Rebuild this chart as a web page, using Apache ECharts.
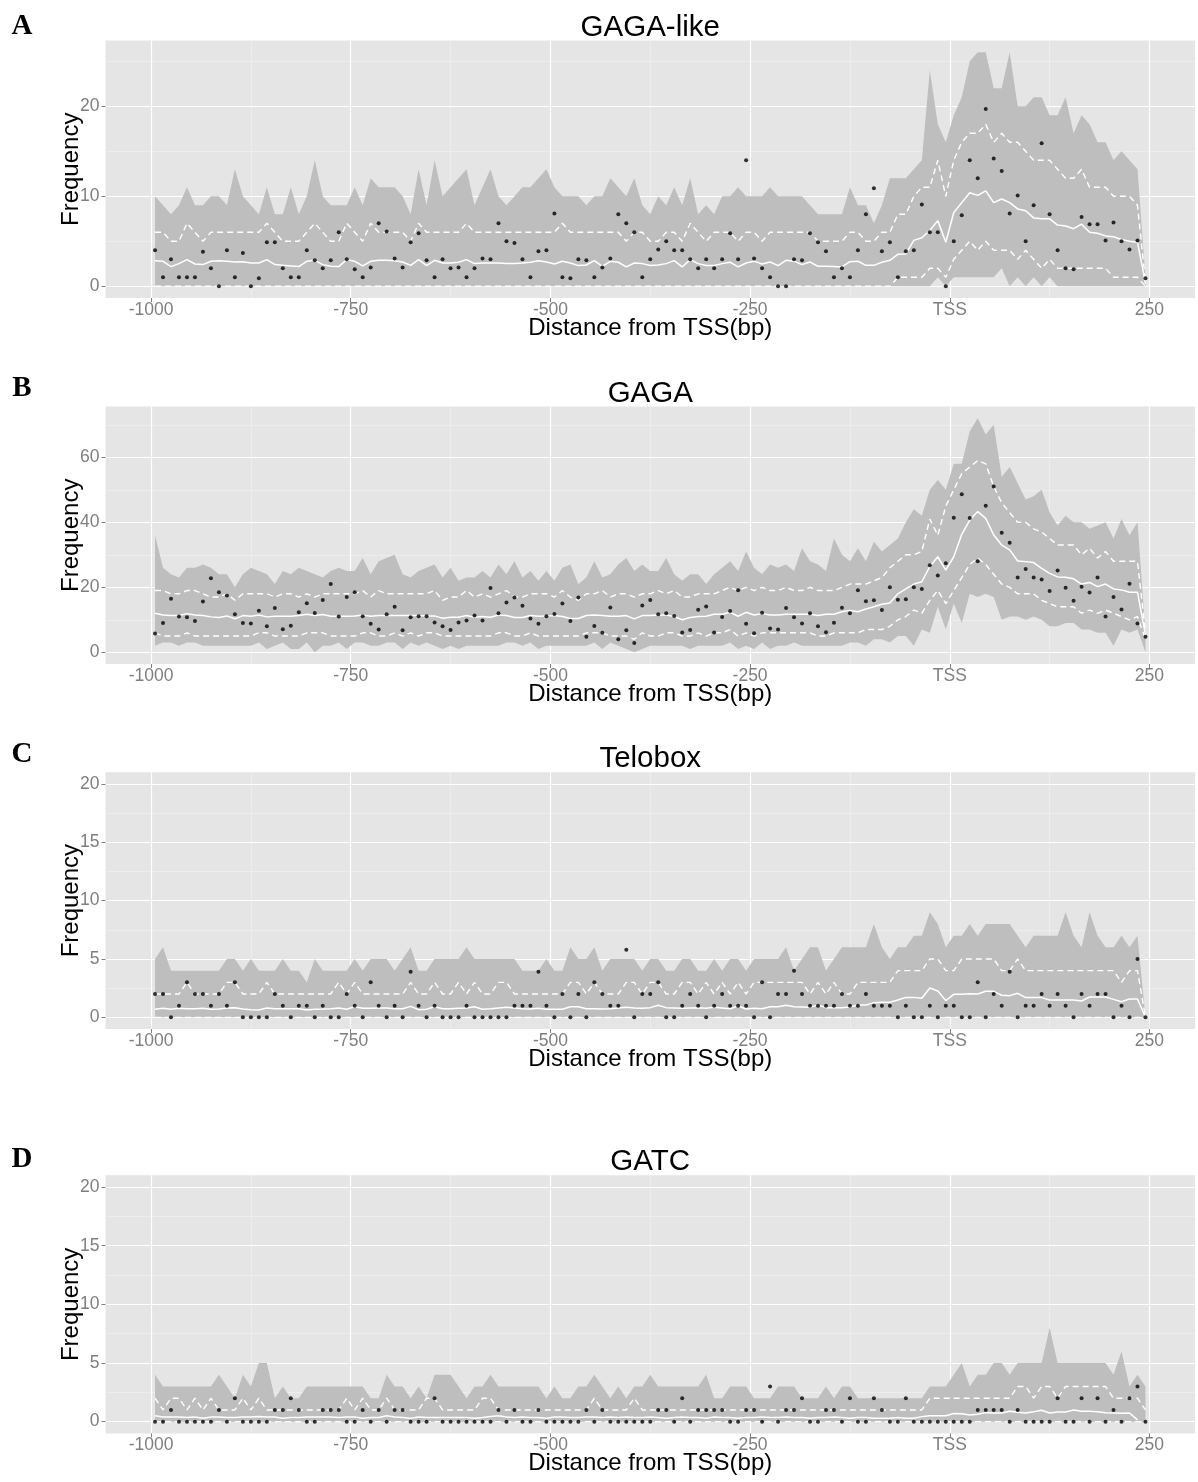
<!DOCTYPE html>
<html>
<head>
<meta charset="utf-8">
<script src="https://cdn.jsdelivr.net/npm/echarts@6/dist/echarts.min.js"></script>
<style>
html, body { margin: 0; padding: 0; background: #ffffff; }
#chart { width: 1198px; height: 1482px; }
</style>
</head>
<body>
<div id="chart"></div>
<script>
// Bin centres in bp relative to the TSS (10 bp bins from -1000 to +250)
const positions = [];
for (let p = -995; p <= 245; p += 10) positions.push(p);

const xTickValues = [-1000, -750, -500, -250, 0, 250];
const xTickNames = ['-1000', '-750', '-500', '-250', 'TSS', '250'];
const xMinorValues = [-875, -625, -375, -125, 125];

// ---------- GAGA-like ----------
const A_max = [10,9,8,9,11,9,9,10,10,9, 13,10,9,8,11,8,8,11,8,10, 14,10,9,9,9,11,9,12,11,11,
  11,10,8,13,9,14,10,11,12,13, 9,11,13,10,9,10,11,11,12,13, 11,10,10,10,9,10,10,12,11,10, 12,9,8,
  10,9,11,9,12,8,9,8,10,10, 11,10,10,10,11,10,10,10,10,9, 8,8,8,8,11,9,9,7,9,12,
  12,12,13,14,24,18,16,19,21,25, 26,26,22,22,26,20,20,21,21,19, 19,21,17,19,18,16,16,14,15,14, 13,1];
const A_qhi = [6,6,5,5,7,6,5,6,6,6, 6,6,6,6,7,6,5,5,5,6, 7,6,5,5,7,6,5,7,6,6,
  6,6,5,7,6,6,6,6,6,7, 6,6,6,6,6,6,6,6,6,6, 6,7,6,6,6,6,6,6,6,5, 6,6,5,
  5,6,6,5,7,6,5,6,6,6, 5,6,6,5,6,6,6,6,6,6, 5,5,5,5,6,6,5,5,6,6,
  8,8,10,11,11,14,10,14,16,17, 17,18,16,17,16,16,15,14,14,14, 13,12,12,13,11,11,11,10,10,10, 9,0.5];
const A_mean = [2.85,2.78,2.19,2.52,2.96,2.48,2.41,2.78,2.85,2.78, 2.7,2.74,2.59,2.59,2.96,2.41,2.33,2.26,2.19,2.78,
  2.89,2.41,2.22,2.19,2.96,2.78,2.26,2.78,2.89,2.89, 2.85,2.7,2.33,2.96,2.3,2.89,2.59,2.59,2.67,2.96,
  2.52,2.59,2.59,2.59,2.52,2.52,2.59,2.67,2.85,2.7, 2.48,2.78,2.59,2.3,2.37,2.85,2.22,2.78,2.67,2.15, 2.59,2.52,2.3,
  2.37,2.52,2.85,2.15,2.96,2.52,2.3,2.3,2.52,2.67, 2.15,2.59,2.78,2.48,2.7,2.3,2.89,2.78,2.41,2.7,
  2.22,2.22,2.19,2.15,2.74,2.78,2.33,2.33,2.67,2.89,
  3.55,3.6,5.1,5.4,6.2,7.3,4.9,8.2,9.3,10.4, 10.1,10.6,9.3,9.7,9.3,8.6,8.4,7.6,7.5,7.5,
  6.8,6.7,6.4,6.9,6.0,5.9,5.6,5.5,5.2,5.0, 4.9,0.3];
const A_qlo = [0,0,0,0,0,0,0,0,0,0, 0,0,0,0,0,0,0,0,0,0, 0,0,0,0,0,0,0,0,0,0,
  0,0,0,0,0,0,0,0,0,0, 0,0,0,0,0,0,0,0,0,0, 0,0,0,0,0,0,0,0,0,0,
  0,0,0,0,0,0,0,0,0,0, 0,0,0,0,0,0,0,0,0,0, 0,0,0,0,0,0,0,0,0,0, 0,0,0,
  1,1,1,1,2,2,1,3,4,5, 4,5,4,4,4,3,4,3,2,3, 2,2,2,2,2,2,2,1,1,1, 1,0];
const A_min = [0,0,0,0,0,0,0,0,0,0, 0,0,0,0,0,0,0,0,0,0, 0,0,0,0,0,0,0,0,0,0,
  0,0,0,0,0,0,0,0,0,0, 0,0,0,0,0,0,0,0,0,0, 0,0,0,0,0,0,0,0,0,0,
  0,0,0,0,0,0,0,0,0,0, 0,0,0,0,0,0,0,0,0,0, 0,0,0,0,0,0,0,0,0,0, 0,0,0,0,0,0,0,
  0,1,0,1,1,1,1,1,1,2, 0,1,0,1,0,1,0,0,0,0, 0,0,0,0,0,0,0,0];
const A_pts = [4,1,3,1,1,1,3.85,2,0,4, 1,3.7,0,0.9,4.9,4.9,2,1,1,4, 2.9,2,2.9,6,3,1.9,1,2.1,7,6.1,
  3.1,2.1,4.9,5.9,2.9,1,3,2,2.1,1, 2,3.1,3,7,5,4.8,3,1,3.9,4, 8.1,1,0.9,3,2.9,1,2.1,3.1,8,7, 6,1,3,
  4.1,5,4,4,3,2,3,2,3,5.9, 3,14,3.1,2,1,0,0,3,2.9,5.9, 4.9,3.9,1,2,1,4,8,10.9,3.9,4.9,
  1,3.9,4,9.1,6,6,0,5,7.9,14, 12,19.7,14.2,12.8,8.1,10.1,5,9,15.9,8, 4,2,1.9,7.7,6.9,6.9,5.1,7.1,5,4.1, 5.1,0.9];

// ---------- GAGA ----------
const B_max = [36,26,24,23,26,26,27,26,24,24, 20,24,26,25,24,21,25,24,26,25, 24,23,25,26,25,25,29,24,28,29,
  30,24,23,25,26,27,23,26,22,23, 23,25,23,27,24,28,23,25,22,25, 22,26,27,21,23,28,23,24,27,29, 25,27,25,
  25,29,24,22,24,24,21,24,26,28, 25,31,26,24,27,26,27,25,32,28, 27,25,35,30,28,32,28,34,31,33,
  35,40,44,42,50,53,50,58,58,68, 72,67,70,54,57,52,47,48,50,43, 39,42,40,40,38,39,40,35,41,36, 40,6];
const B_qhi = [19,19,18,18,19,19,18,17,17,18, 16,18,18,18,18,17,18,18,17,18, 17,18,18,18,18,18,19,17,19,18,
  18,18,18,18,18,19,16,17,17,19, 17,18,17,18,19,17,17,18,18,18, 17,19,17,16,18,18,19,17,18,18, 17,18,18,
  19,18,19,17,17,18,18,18,19,20, 19,20,19,20,19,19,20,19,19,20, 19,19,19,20,21,21,21,22,23,26,
  28,30,30,31,41,36,45,50,55,57, 59,58,51,46,43,40,40,38,37,35, 33,33,33,30,32,29,31,28,28,28, 28,6];
const B_mean = [12,11.5,11.3,11.3,11.9,11.5,11.3,10.9,10.7,11.2, 10.3,11.3,11.1,11.5,10.9,11.1,11.1,11.1,11.3,11.7,
  11.3,11.6,11.1,11.1,11.1,11.2,11.5,11.1,11.3,11.3, 11.3,11.3,11.3,11.3,11.2,11.2,10.5,10.8,10.8,11.3,
  10.8,11,10.8,11.5,11.3,10.7,10.7,11.3,11.1,11.2, 11.3,11,10.4,10.4,11.3,11.5,11.3,11.1,11.1,11.3, 10.3,11.3,11.3,
  11.5,11.5,11,10,10.7,11,11.1,11.7,11.7,12.3, 11.1,12.3,11.5,11.9,11.5,11.5,11.7,11.7,11.7,11.7,
  11.3,11.7,11.7,12.5,12.9,12.5,13.3,14,14.8,15.2, 18,19.5,21,21.7,26.4,29.4,25.3,29.4,36.3,40.7,
  43.3,41.2,36.1,33,31.5,28.1,27.9,27.6,25.8,24.3, 23.2,23.1,22.6,21,21.5,20.2,21,19.5,19.2,18.5, 18.5,5.3];
const B_qlo = [6,5,5,5,6,5,5,5,5,5, 5,5,5,6,6,5,5,5,5,6, 6,6,5,5,5,5,6,6,5,5,
  6,5,6,5,6,6,5,5,5,5, 5,5,5,6,6,5,5,6,5,5, 5,5,5,5,6,6,6,5,5,5, 4,6,5,
  5,6,6,5,5,6,5,6,6,7, 5,6,5,6,6,6,6,6,6,6, 5,5,6,6,6,6,7,7,7,8,
  10,11,13,12,16,19,15,19,23,27, 29,27,24,21,20,18,18,18,16,15, 14,14,14,12,13,12,13,12,11,10, 11,4];
const B_min = [2,3,3,2,3,3,2,2,2,2, 2,2,2,3,1,2,3,1,1,3, 0,2,2,3,1,3,3,2,2,3,
  3,1,3,2,3,2,1,2,1,2, 2,2,2,2,3,3,2,3,1,2, 2,2,2,2,2,3,1,3,2,1, 0,1,2,
  2,2,2,2,1,2,2,2,2,3, 1,2,1,3,1,2,2,3,2,2, 2,2,2,2,3,3,2,4,4,3,
  5,5,2,7,6,14,7,15,9,18, 17,18,17,10,11,11,10,11,10,8, 8,9,9,7,7,6,6,2,7,6, 7,0];
const B_pts = [5.8,9,16.5,11,10.8,9.6,15.6,22.8,18.5,17.5, 11.7,9,8.9,12.8,8,13.6,7.1,8.2,12.3,15.1,
  12.1,16.1,21,11,17,18.5,11.1,8.8,7,11.7, 14,6.8,10.8,11.1,11.1,9.2,8,6.9,9.2,9.8,
  11.3,9.8,19.8,12,15.3,16.9,14.3,10.4,8.8,11.1, 11.8,15,9.6,16.9,4.8,8.1,6,13.8,4,6.8, 2.9,14.4,16.1,
  11.7,12,11.2,6.1,6.9,13.1,14.1,6.1,10.9,12.7, 19.1,8.8,5.9,12.2,7.3,7,13.6,10.8,8.9,12,
  8,6.2,9.1,13.7,12,19.1,15.7,16,13,20, 16.2,16.3,20,19.5,26.8,23.6,27.4,41.4,48.6,41.3,
  28,45.1,51,36.8,33.7,23,25.6,23,22.4,18.9, 25.2,19.9,15.9,20.2,18.4,23,11,17,13.2,21.1, 8.9,4.8];

// ---------- Telobox ----------
const C_max = [5,6,4,4,4,4,4,4,4,5, 5,4,5,4,4,4,5,4,4,3, 5,4,4,4,4,5,4,5,5,5,
  4,5,6,4,4,5,5,5,5,6, 5,5,5,5,5,5,4,4,4,5, 4,4,6,5,5,6,4,5,5,5, 5,4,5,
  5,4,4,5,5,4,4,5,4,5, 5,4,5,5,5,5,6,4,5,6, 6,4,5,6,6,6,6,8,6,5,
  6,6,7,7,9,8,6,7,7,8, 7,8,8,8,8,7,6,7,7,7, 7,9,7,6,9,7,6,6,7,6, 7,0];
const C_qhi = [2,2,2,2,3,2,2,2,2,3, 3,2,2,2,3,2,2,2,2,2, 2,2,2,3,2,3,2,2,2,2,
  2,2,3,2,2,3,2,2,3,2, 3,2,2,3,3,2,2,2,2,2, 2,2,3,3,2,3,2,2,2,3, 3,2,3,
  3,2,2,3,3,2,3,2,3,2, 3,2,3,3,3,3,3,3,3,2, 3,2,3,2,2,3,3,3,3,3,
  4,4,4,4,5,5,4,4,5,5, 5,5,5,4,4,5,4,4,4,4, 4,4,4,4,4,4,4,4,3,4, 4,0];
const C_mean = [0.7,0.77,0.7,0.77,0.74,0.74,0.77,0.7,0.71,0.8, 0.83,0.71,0.66,0.63,0.8,0.74,0.74,0.74,0.74,0.63,
  0.69,0.71,0.74,0.8,0.69,0.91,0.77,0.77,0.8,0.8, 0.74,0.74,0.94,0.66,0.69,0.91,0.74,0.74,0.77,0.8,
  0.91,0.69,0.74,0.8,0.86,0.8,0.74,0.71,0.77,0.69, 0.69,0.69,0.91,0.91,0.74,0.74,0.71,0.74,0.8,0.86, 0.8,0.77,0.83,
  1.03,0.83,0.8,0.77,0.8,0.83,0.77,0.86,0.8,0.74, 0.97,0.71,0.77,0.74,0.91,0.91,1.03,0.91,0.89,0.86,
  1.06,0.83,0.83,0.83,0.89,1.06,1.06,1.26,1.29,1.29, 1.49,1.71,1.71,1.63,2.51,2.26,1.43,1.97,1.97,2.03,
  2.0,2.23,2.23,1.89,1.86,2.06,1.69,1.69,1.69,1.49, 1.49,1.49,1.49,1.4,1.74,1.74,1.74,1.54,1.34,1.57, 1.57,0];
const C_qlo = [0,0,0,0,0,0,0,0,0,0, 0,0,0,0,0,0,0,0,0,0, 0,0,0,0,0,0,0,0,0,0,
  0,0,0,0,0,0,0,0,0,0, 0,0,0,0,0,0,0,0,0,0, 0,0,0,0,0,0,0,0,0,0,
  0,0,0,0,0,0,0,0,0,0, 0,0,0,0,0,0,0,0,0,0, 0,0,0,0,0,0,0,0,0,0,
  0,0,0,0,0,0,0,0,0,0, 0,0,0,0,0,0,0,0,0,0, 0,0,0,0,0,0,0,0,0,0, 0,0,0,0,0];
const C_min = C_qlo;
const C_pts = [2,2,0,1,3,2,2,1,2,1, 3,0,0,0,0,2,1,0,1,1, 0,1,0,0,2,1,0,3,1,0,
  1,0,3.9,1,0,1,0,0,0,1, 0,0,0,0,0,1,1,1,3.9,1, 0,2,0,2,0,3,2,1,1,5.8, 0,2,2,
  3,0,0,1,2,1,0,1,2,1, 1,1,0,3,0,2,2,4,2,1, 1,1,1,2,1,1,2,1,1,1,
  0,1,0,0,1,0,1,1,0,0, 3,0,2,1,3.9,0,1,1,2,1, 2,1,0,2,1,2,2,0,1,0, 5,0];

// ---------- GATC ----------
const D_max = [4,3,3,3,3,3,3,3,4,3, 2,4,3,5,5,2,3,2,2,3, 3,3,3,3,3,3,3,2,2,4,
  3,3,2,3,2,4,4,4,3,2, 3,3,4,3,3,3,3,3,3,2, 3,2,2,3,3,4,3,2,3,2, 3,3,4,
  3,3,3,3,3,3,4,2,2,3, 3,3,2,2,2,3,3,3,2,2, 2,3,2,3,3,2,2,2,2,2,
  2,2,2,2,3,3,3,4,5,3, 4,4,5,5,4,5,5,5,5,8, 5,5,5,5,5,5,5,4,6,3, 4,3];
const D_qhi = [2,1,2,2,1,2,1,2,1,1, 1,2,1,2,1,1,1,1,1,1, 1,1,1,1,2,1,2,1,1,2,
  1,1,1,1,2,2,1,1,1,1, 1,2,2,1,1,1,1,1,1,1, 1,1,1,1,1,2,1,1,1,1, 2,1,1,
  1,1,1,1,1,1,1,1,1,1, 1,1,1,1,1,1,1,1,1,1, 1,1,1,1,1,1,1,1,1,1,
  1,1,1,1,2,2,2,2,2,2, 2,2,2,2,2,3,3,2,3,3, 2,3,3,3,3,3,3,2,2,2, 2,1];
const D_mean = [0.5,0.4,0.4,0.4,0.35,0.4,0.3,0.4,0.4,0.35, 0.35,0.4,0.4,0.45,0.4,0.4,0.3,0.35,0.35,0.4,
  0.4,0.4,0.4,0.35,0.4,0.4,0.3,0.35,0.35,0.5, 0.4,0.35,0.3,0.4,0.35,0.35,0.35,0.35,0.35,0.35,
  0.3,0.35,0.45,0.5,0.4,0.35,0.4,0.35,0.35,0.3, 0.4,0.4,0.35,0.35,0.4,0.4,0.35,0.4,0.35,0.4, 0.35,0.35,0.4,
  0.35,0.3,0.35,0.4,0.35,0.35,0.3,0.4,0.35,0.35, 0.3,0.35,0.35,0.4,0.35,0.35,0.4,0.35,0.35,0.3,
  0.35,0.35,0.4,0.35,0.3,0.35,0.35,0.3,0.3,0.3, 0.35,0.3,0.3,
  0.43,0.5,0.5,0.5,0.7,0.68,0.57,0.63,0.77,0.74, 0.74,0.88,0.8,0.74,0.85,0.97,0.74,0.83,0.83,1.0,
  0.88,0.88,0.85,0.77,0.74,0.71,0.74,0.15];
const D_qlo = C_qlo;
const D_min = C_qlo;
const D_pts = [0,0,1,0,0,0,0,0,1,0, 2,0,0,0,0,1,1,2,1,0, 0,1,1,1,0,0,1,0,1,0,
  1,1,0,0,0,2,0,0,0,0, 0,0,0,1,0,1,0,0,1,0, 0,0,0,0,1,0,1,0,0,0, 0,0,0,
  1,1,0,2,0,1,1,1,1,0, 0,1,1,0,3,0,1,1,2,0, 0,1,1,0,2,0,0,2,1,0,
  0,2,0,0,0,0,0,0,0,0, 1,1,1,1,0,1,0,0,0,0, 2,0,0,2,0,2,0,1,0,2, 3,0];

const panels = [
  { letter: 'A', title: 'GAGA-like', yMin: -1.3, yMax: 27.3, yMajor: [0, 10, 20], yMinor: [5, 15, 25],
    max: A_max, qhi: A_qhi, mean: A_mean, qlo: A_qlo, min: A_min, pts: A_pts },
  { letter: 'B', title: 'GAGA', yMin: -3.6, yMax: 75.6, yMajor: [0, 20, 40, 60], yMinor: [10, 30, 50, 70],
    max: B_max, qhi: B_qhi, mean: B_mean, qlo: B_qlo, min: B_min, pts: B_pts },
  { letter: 'C', title: 'Telobox', yMin: -1, yMax: 21, yMajor: [0, 5, 10, 15, 20], yMinor: [2.5, 7.5, 12.5, 17.5],
    max: C_max, qhi: C_qhi, mean: C_mean, qlo: C_qlo, min: C_min, pts: C_pts },
  { letter: 'D', title: 'GATC', yMin: -1, yMax: 21, yMajor: [0, 5, 10, 15, 20], yMinor: [2.5, 7.5, 12.5, 17.5],
    max: D_max, qhi: D_qhi, mean: D_mean, qlo: D_qlo, min: D_min, pts: D_pts }
];

// panel geometry (px)
const plotLeft = 105.5, plotRight = 1195;
const panelTop = [40.6, 406.6, 772.3, 1175.3];
const panelHeight = [257.4, 257.4, 256.7, 258.1];
const letterY = [27, 389, 755, 1160];

const FONT = '"Liberation Sans", Arial, Helvetica, sans-serif';
const TICK_GREY = '#7F7F7F';

const grid = [], xAxis = [], yAxis = [], series = [], graphic = [];
const pair = (arr) => positions.map((x, j) => [x, arr[j]]);

panels.forEach((p, i) => {
  const top = panelTop[i], h = panelHeight[i];
  grid.push({ left: plotLeft, width: plotRight - plotLeft, top: top, height: h,
    show: true, backgroundColor: '#E5E5E5', borderWidth: 0 });

  // major x axis: ticks, labels, white grid lines
  xAxis.push({
    gridIndex: i, type: 'value', min: -1057, max: 307, position: 'bottom',
    axisLine: { show: false, onZero: false },
    axisTick: { show: true, customValues: xTickValues, length: 4, lineStyle: { color: TICK_GREY, width: 1 } },
    axisLabel: { show: true, customValues: xTickValues, margin: 3, color: TICK_GREY, fontSize: 17.5, fontFamily: FONT,
      formatter: (v) => xTickNames[xTickValues.indexOf(v)] },
    splitLine: { show: true, lineStyle: { color: '#FFFFFF', width: 1.2 } }
  });
  // minor x grid lines
  xAxis.push({
    gridIndex: i, type: 'value', min: -1057, max: 307, position: 'bottom',
    axisLine: { show: false, onZero: false },
    axisTick: { show: false, customValues: xMinorValues },
    axisLabel: { show: false, customValues: xMinorValues },
    splitLine: { show: true, lineStyle: { color: '#F2F2F2', width: 0.6 } }
  });
  // major y axis
  yAxis.push({
    gridIndex: i, type: 'value', min: p.yMin, max: p.yMax, position: 'left',
    axisLine: { show: false, onZero: false },
    axisTick: { show: true, customValues: p.yMajor, length: 4, lineStyle: { color: TICK_GREY, width: 1 } },
    axisLabel: { show: true, customValues: p.yMajor, margin: 6, color: TICK_GREY, fontSize: 17.5, fontFamily: FONT },
    splitLine: { show: true, lineStyle: { color: '#FFFFFF', width: 1.2 } }
  });
  // minor y grid lines
  yAxis.push({
    gridIndex: i, type: 'value', min: p.yMin, max: p.yMax, position: 'left',
    axisLine: { show: false, onZero: false },
    axisTick: { show: false, customValues: p.yMinor },
    axisLabel: { show: false, customValues: p.yMinor },
    splitLine: { show: true, lineStyle: { color: '#F2F2F2', width: 0.6 } }
  });

  const xi = 2 * i, yi = 2 * i;
  const common = { xAxisIndex: xi, yAxisIndex: yi, silent: true, animation: false };

  // ribbon between the lower and upper envelopes, one polygon through the axis scales
  series.push(Object.assign({}, common, {
    type: 'custom', z: 1,
    data: positions.map((x, j) => [x, p.min[j], p.max[j]]),
    encode: { x: 0, y: [1, 2] },
    renderItem: (params, api) => {
      if (params.dataIndex !== 0) return null;
      const upper = positions.map((x, j) => api.coord([x, p.max[j]]));
      const lower = positions.map((x, j) => api.coord([x, p.min[j]])).reverse();
      return { type: 'polygon', shape: { points: upper.concat(lower) }, style: { fill: '#BEBEBE' } };
    }
  }));
  // upper / lower dashed quantile lines
  [p.qhi, p.qlo].forEach((arr) => {
    series.push(Object.assign({}, common, {
      type: 'line', data: pair(arr), symbol: 'none', z: 3,
      lineStyle: { color: '#FFFFFF', width: 1.4, type: [6, 4] }
    }));
  });
  // solid average line
  series.push(Object.assign({}, common, {
    type: 'line', data: pair(p.mean), symbol: 'none', z: 3,
    lineStyle: { color: '#FFFFFF', width: 1.5 }
  }));
  // observed counts
  series.push(Object.assign({}, common, {
    type: 'scatter', data: pair(p.pts), symbol: 'circle', symbolSize: 4,
    itemStyle: { color: '#000000' }, z: 4
  }));

  const cx = (plotLeft + plotRight) / 2;
  graphic.push({ type: 'text', x: cx, y: top - 13, silent: true,
    style: { text: p.title, fill: '#000', font: '29.5px ' + FONT, align: 'center', verticalAlign: 'middle',
             textAlign: 'center', textVerticalAlign: 'middle' } });
  graphic.push({ type: 'text', x: cx, y: top + h + 30, silent: true,
    style: { text: 'Distance from TSS(bp)', fill: '#000', font: '24px ' + FONT, align: 'center', verticalAlign: 'middle',
             textAlign: 'center', textVerticalAlign: 'middle' } });
  graphic.push({ type: 'text', x: 71, y: top + h / 2, rotation: Math.PI / 2, silent: true,
    style: { text: 'Frequency', fill: '#000', font: '24px ' + FONT, align: 'center', verticalAlign: 'middle',
             textAlign: 'center', textVerticalAlign: 'middle' } });
  graphic.push({ type: 'text', x: 22, y: letterY[i], silent: true,
    style: { text: p.letter, fill: '#000', font: 'bold 29px "Liberation Serif", "Times New Roman", serif',
             align: 'center', verticalAlign: 'middle', textAlign: 'center', textVerticalAlign: 'middle' } });
});

const chart = echarts.init(document.getElementById('chart'), null, { renderer: 'canvas' });
chart.setOption({
  animation: false,
  backgroundColor: '#FFFFFF',
  grid: grid,
  xAxis: xAxis,
  yAxis: yAxis,
  series: series,
  graphic: graphic
});
</script>
</body>
</html>
